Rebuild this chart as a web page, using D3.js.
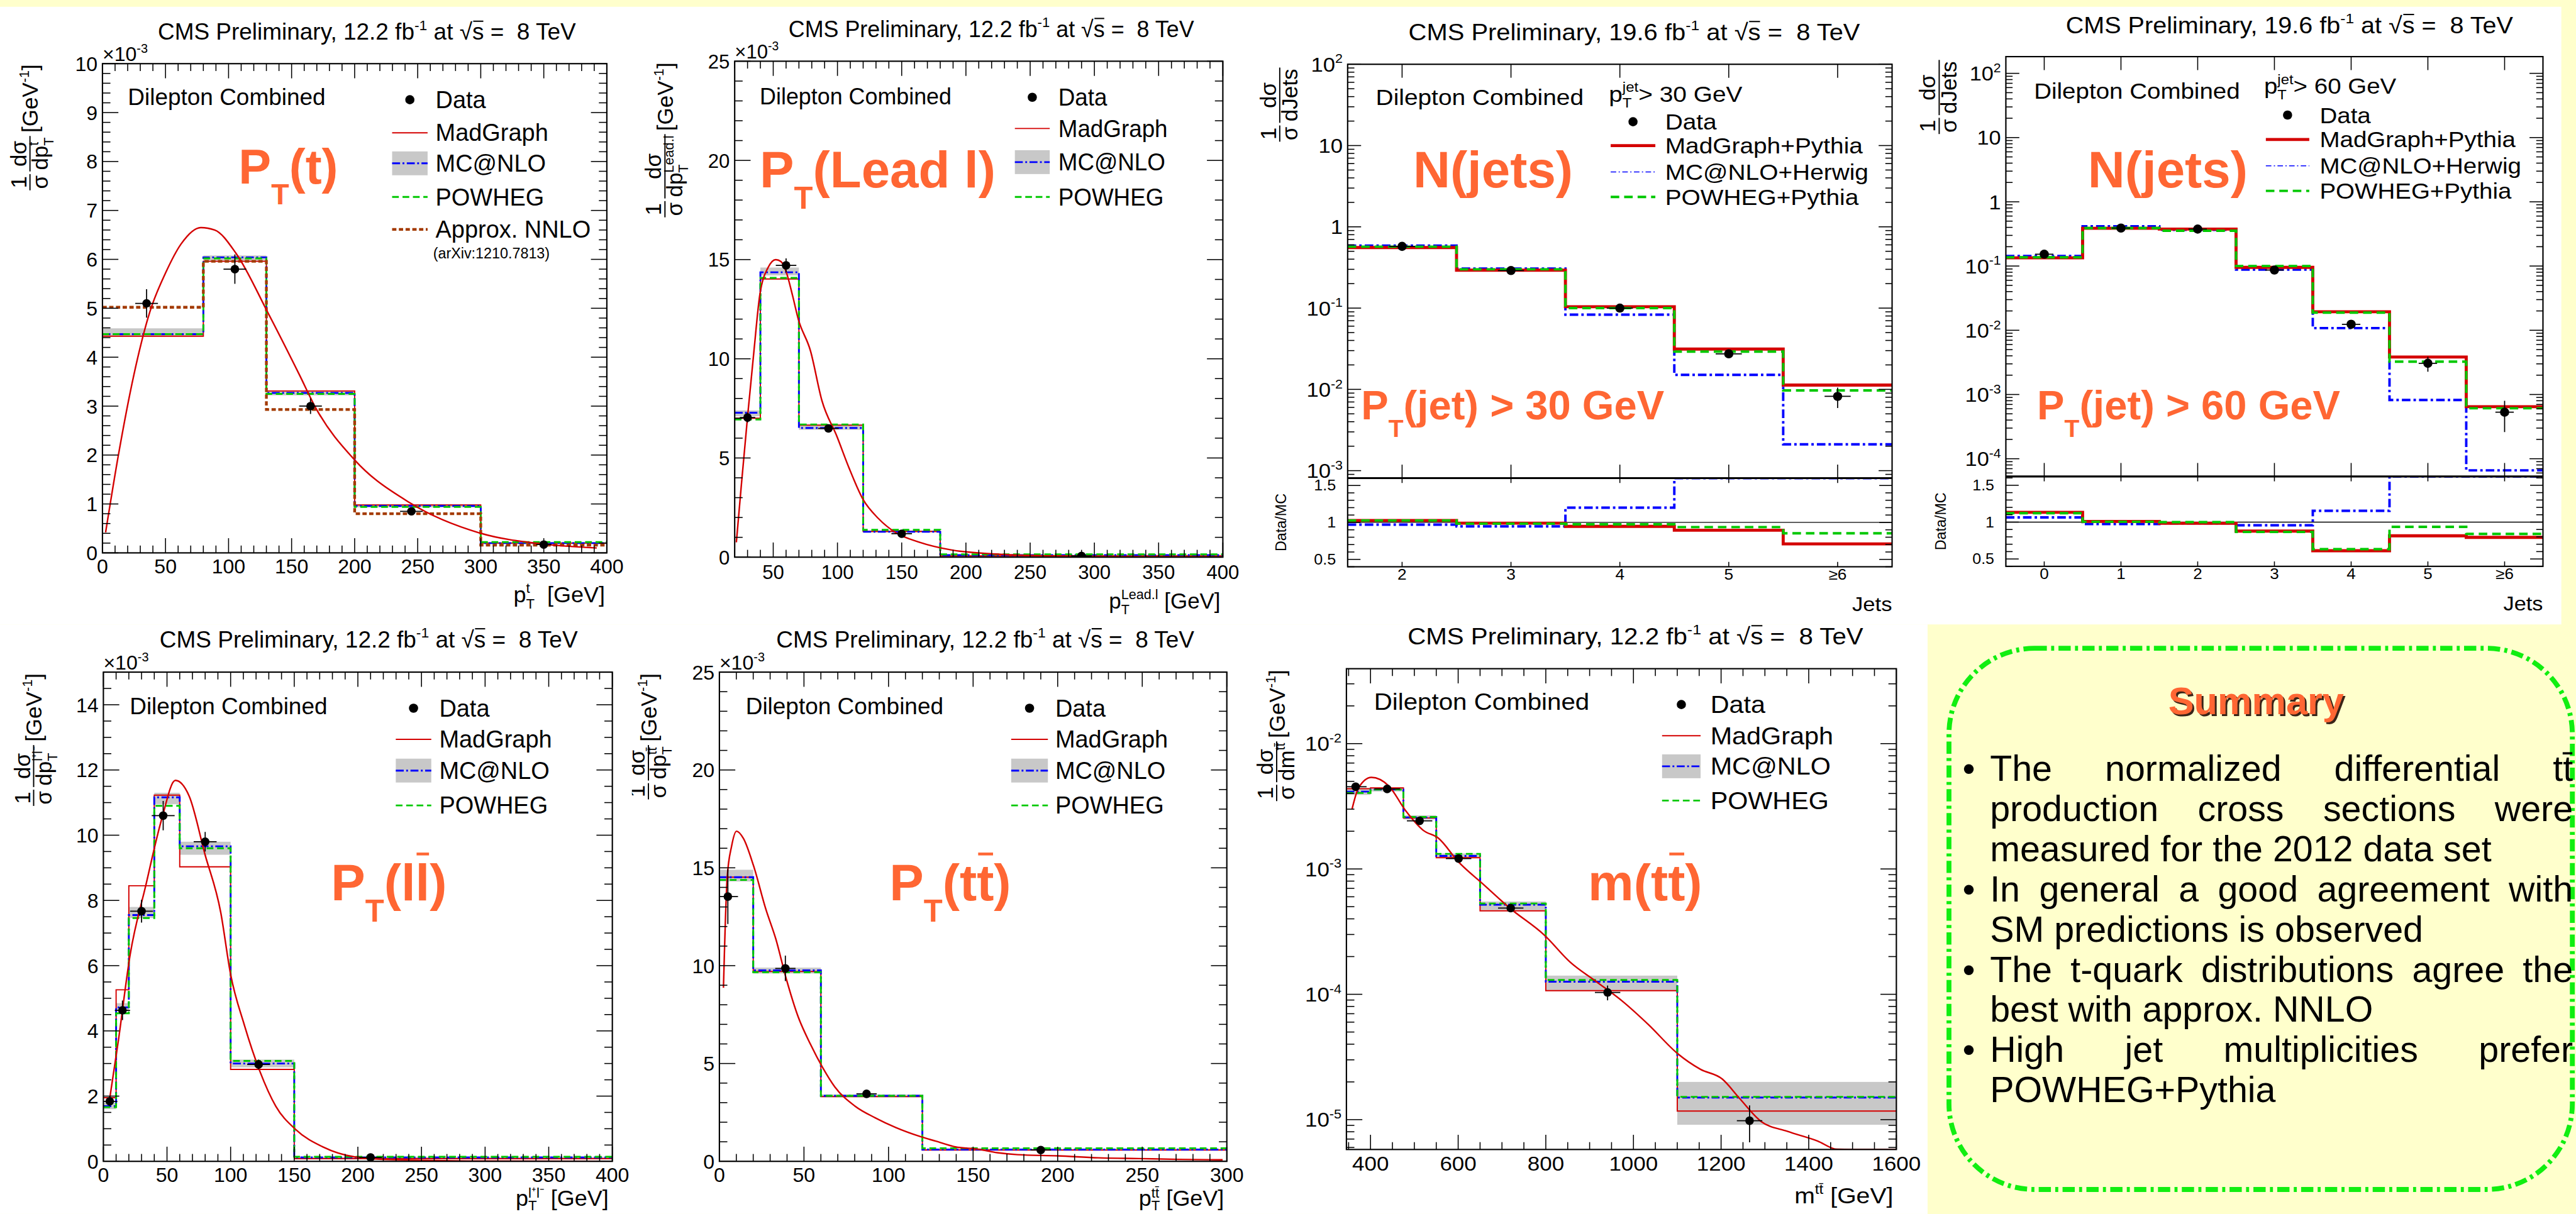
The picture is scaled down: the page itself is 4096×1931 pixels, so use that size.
<!DOCTYPE html>
<html>
<head>
<meta charset="utf-8">
<script src="https://cdn.jsdelivr.net/npm/d3@7"></script>
<style>
  html, body { margin: 0; padding: 0; background: #ffffcc; overflow: hidden; }
  svg { display: block; font-family: "Liberation Sans", Arial, Helvetica, sans-serif; }
  text { white-space: pre; }
</style>
</head>
<body>
<svg id="chart" width="4096" height="1931" viewBox="0 0 4211 1985"></svg>
<script>
// ---------------- data ----------------

// top quark pT, values in units of 1e-3 GeV^-1
const ptTopBins = [0, 80, 130, 200, 300, 400];
const ptTopMadGraph = [4.43, 5.96, 3.31, 0.98, 0.2];
const ptTopMcNlo = [4.47, 6.04, 3.27, 0.96, 0.2];
const ptTopMcNloLow = [4.42, 5.96, 3.22, 0.93, 0.18];
const ptTopMcNloHigh = [4.59, 6.08, 3.31, 0.99, 0.22];
const ptTopPowheg = [4.47, 6.02, 3.25, 0.94, 0.22];
const ptTopNnlo = [5.02, 5.96, 2.93, 0.8, 0.16];
const ptTopDataX = [35, 105, 165, 245, 350];
const ptTopDataY = [5.1, 5.8, 3.0, 0.85, 0.17];
const ptTopDataErr = [0.29, 0.3, 0.16, 0.06, 0.03];
const ptTopDataXErr = [9, 9, 9, 9, 6];
const ptTopCurveX = [2.5, 12.5, 25, 37.5, 50, 62.5, 78, 89, 106, 131, 156, 169, 200, 244, 300, 350, 392];
const ptTopCurveY = [0.42, 1.98, 3.65, 4.92, 5.72, 6.32, 6.65, 6.6, 6.12, 4.92, 3.65, 2.97, 1.9, 1.02, 0.4, 0.18, 0.1];

// leading lepton pT
const ptLeadBins = [20, 40, 70, 120, 180, 400];
const ptLeadMadGraph = [7.0, 14.02, 6.65, 1.3, 0.06];
const ptLeadMcNlo = [7.28, 14.36, 6.51, 1.28, 0.1];
const ptLeadMcNloLow = [7.1, 14.2, 6.42, 1.24, 0.08];
const ptLeadMcNloHigh = [7.4, 14.6, 6.72, 1.34, 0.12];
const ptLeadPowheg = [6.94, 14.08, 6.69, 1.38, 0.14];
const ptLeadDataX = [30, 60, 93, 150, 290];
const ptLeadDataY = [7.04, 14.71, 6.49, 1.18, 0.06];
const ptLeadDataErr = [0.25, 0.35, 0.2, 0.08, 0.02];
const ptLeadDataXErr = [6, 8, 8, 8, 8];
const ptLeadCurveX = [21.3, 25, 30, 35, 39.5, 46, 52, 56, 60, 65, 69.5, 79, 88, 99.5, 109, 120, 132, 145, 164, 189, 223, 270, 330, 396];
const ptLeadCurveY = [0.75, 3.5, 7.07, 10.4, 13.2, 14.6, 15.0, 14.9, 14.4, 13.2, 12.0, 10.4, 7.87, 6.1, 4.5, 2.9, 1.94, 1.25, 0.75, 0.36, 0.16, 0.06, 0.03, 0.02];

// jet multiplicity, pT(jet) > 30 GeV
const nJets30Labels = ['2', '3', '4', '5', '≥6'];
const nJets30Data = [0.575, 0.29, 0.1, 0.0274, 0.0082];
const nJets30DataErr = [0.015, 0.008, 0.003, 0.0025, 0.0023];
const nJets30MadGraph = [0.556, 0.293, 0.104, 0.0313, 0.0113];
const nJets30McNlo = [0.588, 0.306, 0.083, 0.0151, 0.00211];
const nJets30Powheg = [0.57, 0.3, 0.1, 0.0292, 0.0097];
const nJets30RatioMadGraph = [1.026, 0.99, 0.947, 0.895, 0.71];
const nJets30RatioMcNlo = [0.97, 0.947, 1.2, 1.81, 3.8];
const nJets30RatioPowheg = [1.026, 0.984, 0.974, 0.937, 0.853];

// jet multiplicity, pT(jet) > 60 GeV
const nJets60Labels = ['0', '1', '2', '3', '4', '5', '≥6'];
const nJets60Data = [0.153, 0.39, 0.376, 0.0866, 0.0124, 0.00306, 0.00053];
const nJets60DataErr = [0.01, 0.015, 0.015, 0.006, 0.002, 0.0008, 0.00027];
const nJets60MadGraph = [0.134, 0.387, 0.376, 0.0955, 0.0194, 0.00383, 0.000646];
const nJets60McNlo = [0.143, 0.415, 0.366, 0.088, 0.0108, 0.00082, 0.000066];
const nJets60Powheg = [0.137, 0.39, 0.355, 0.1, 0.0188, 0.00325, 0.00061];
const nJets60RatioMadGraph = [1.133, 1.01, 0.984, 0.878, 0.612, 0.814, 0.793];
const nJets60RatioMcNlo = [1.064, 0.973, 0.984, 0.957, 1.154, 3.7, 8.0];
const nJets60RatioPowheg = [1.122, 1.005, 1.0, 0.867, 0.633, 0.936, 0.84];

// dilepton pT
const ptLLBins = [0, 10, 20, 40, 60, 100, 150, 400];
const ptLLMadGraph = [1.95, 5.26, 8.45, 11.23, 9.03, 2.82, 0.08];
const ptLLMcNlo = [1.69, 4.72, 7.55, 11.16, 9.66, 3.0, 0.12];
const ptLLMcNloLow = [1.6, 4.6, 7.46, 10.95, 9.4, 2.88, 0.1];
const ptLLMcNloHigh = [1.8, 4.85, 7.8, 11.3, 9.8, 3.12, 0.14];
const ptLLPowheg = [1.66, 4.54, 7.46, 10.9, 9.6, 3.08, 0.14];
const ptLLDataX = [5, 15, 30, 47, 80, 122, 210];
const ptLLDataY = [1.84, 4.63, 7.67, 10.6, 9.8, 2.97, 0.12];
const ptLLDataErr = [0.15, 0.3, 0.35, 0.45, 0.3, 0.15, 0.02];
const ptLLDataXErr = [6, 6, 9, 9, 9, 9, 9];
const ptLLCurveX = [5, 11.8, 21, 33.4, 45.8, 56.6, 67.4, 79.8, 92.2, 100, 110.7, 123, 135.5, 151, 172.6, 197, 228, 300, 400];
const ptLLCurveY = [1.93, 3.71, 6.33, 8.47, 10.49, 11.68, 11.2, 9.42, 7.64, 5.73, 4.19, 2.76, 1.69, 0.98, 0.44, 0.14, 0.05, 0.01, 0.0];

// ttbar pT
const ptTTBins = [0, 20, 60, 120, 300];
const ptTTMadGraph = [14.52, 9.7, 3.31, 0.58];
const ptTTMcNlo = [14.52, 9.76, 3.35, 0.6];
const ptTTMcNloLow = [14.3, 9.6, 3.28, 0.56];
const ptTTMcNloHigh = [14.9, 9.9, 3.42, 0.64];
const ptTTPowheg = [14.38, 9.66, 3.35, 0.67];
const ptTTDataX = [5, 39, 87, 190];
const ptTTDataY = [13.53, 9.86, 3.45, 0.58];
const ptTTDataErr = [1.4, 0.65, 0.2, 0.08];
const ptTTDataXErr = [6, 6, 6, 6];
const ptTTCurveX = [2.4, 4.6, 7.2, 10.1, 14.2, 20.2, 27.4, 33.4, 39.4, 46.6, 53.8, 61, 68.2, 80.2, 92.2, 104.2, 118.6, 128, 140, 152.3, 164.3, 176.3, 200, 224, 248, 272, 297.5];
const ptTTCurveY = [8.87, 14.5, 16.1, 16.87, 16.5, 15.1, 12.9, 11.35, 9.37, 7.38, 5.99, 4.8, 3.81, 2.82, 2.22, 1.73, 1.27, 1.03, 0.73, 0.63, 0.44, 0.34, 0.28, 0.18, 0.14, 0.1, 0.08];

// ttbar invariant mass
const mTTBins = [345, 400, 475, 550, 650, 800, 1100, 1600];
const mTTMadGraph = [4.37e-3, 4.43e-3, 2.55e-3, 1.23e-3, 4.64e-4, 1.07e-4, 1.17e-5];
const mTTMcNlo = [4.14e-3, 4.3e-3, 2.58e-3, 1.27e-3, 5.19e-4, 1.26e-4, 1.5e-5];
const mTTMcNloLow = [3.9e-3, 4.15e-3, 2.48e-3, 1.22e-3, 4.7e-4, 1.07e-4, 9.1e-6];
const mTTMcNloHigh = [4.4e-3, 4.45e-3, 2.68e-3, 1.33e-3, 5.5e-4, 1.41e-4, 2.0e-5];
const mTTPowheg = [4.04e-3, 4.3e-3, 2.6e-3, 1.32e-3, 5.3e-4, 1.3e-4, 1.52e-5];
const mTTDataX = [366, 438, 512, 601, 720, 941, 1265];
const mTTDataY = [4.53e-3, 4.35e-3, 2.42e-3, 1.21e-3, 4.87e-4, 1.035e-4, 9.8e-6];
const mTTDataErr = [0.3e-3, 0.2e-3, 0.12e-3, 0.07e-3, 0.03e-3, 0.14e-4, 3.2e-6];
const mTTDataXErr = [25, 29, 29, 29, 29, 29, 29];
const mTTCurveX = [357.8, 372.7, 402, 441.6, 481, 520.6, 555, 599.6, 659, 718, 797, 856, 915.5, 975, 1034, 1101, 1153, 1202.6, 1242, 1291.6, 1350.9, 1420, 1464.5, 1500, 1600];
const mTTCurveY = [3.0e-3, 4.44e-3, 5.38e-3, 4.6e-3, 2.89e-3, 2.03e-3, 1.76e-3, 1.15e-3, 7.46e-4, 4.87e-4, 2.96e-4, 1.8e-4, 1.26e-4, 8.8e-5, 5.74e-5, 3.36e-5, 2.52e-5, 2.11e-5, 1.48e-5, 9.66e-6, 8.07e-6, 6.76e-6, 5.8e-6, 5.5e-6, 5.0e-6];

const summaryTitle = 'Summary';
const summaryItems = [
  ['The normalized differential tt\u0304', 'production cross sections were', 'measured for the 2012 data set'],
  ['In general a good agreement with', 'SM predictions is observed'],
  ['The t-quark distributions agree the', 'best with approx. NNLO'],
  ['High jet multiplicities prefer', 'POWHEG+Pythia'],
];

// ---------------- styles ----------------
const INK = '#000';
const ORANGE = '#ff6633';
const RED = '#d40000';
const BLUE = '#0000ff';
const GREEN = '#00c800';
const BROWN = '#a33a00';
const BAND = '#c8c8c8';

const styles = {
  madgraph: { stroke: RED, width: 2 },
  mcnlo: { stroke: BLUE, width: 3, dash: '13,4,3,4' },
  powheg: { stroke: GREEN, width: 3, dash: '11,6' },
  nnlo: { stroke: BROWN, width: 4.5, dash: '7,4' },
  curve: { stroke: RED, width: 2.5 },
};
const jetStyles = {
  madgraph: { stroke: RED, width: 5 },
  mcnlo: { stroke: BLUE, width: 4, dash: '14,5,4,5' },
  mcnloLegend: { stroke: BLUE, width: 1.5, dash: '9,4,2,4' },
  powheg: { stroke: GREEN, width: 4, dash: '14,8' },
};

const svg = d3.select('#chart');
const defs = svg.append('defs');

// slide background + white picture areas
svg.append('rect').attr('width', 4211).attr('height', 1985).attr('fill', '#ffffcc');
svg.append('rect').attr('x', 0).attr('y', 11).attr('width', 4187).attr('height', 1010).attr('fill', '#fff');
svg.append('rect').attr('x', 0).attr('y', 1021).attr('width', 3151).attr('height', 964).attr('fill', '#fff');

// ---------------- helpers ----------------
function stroke(sel, st) {
  sel.attr('fill', 'none').attr('stroke', st.stroke).attr('stroke-width', st.width);
  if (st.dash) sel.attr('stroke-dasharray', st.dash);
  return sel;
}

// text made of pieces: {t} plain, {sub, sup} stacked scripts, {t, bar} overlined
function richText(parent, x, y, parts, size, opts = {}) {
  const anchor = opts.anchor || 'start';
  const sx = opts.stretch || 1;
  const g = parent.append('g');
  const fill = opts.fill || INK;
  g.attr('fill', fill);
  if (opts.weight) g.attr('font-weight', opts.weight);
  let cx = 0;
  parts.forEach((p) => {
    if (p.t !== undefined) {
      const t = g.append('text').attr('x', cx).attr('y', 0)
        .attr('font-size', size * (p.scale || 1)).text(p.t);
      const w = t.node().getComputedTextLength();
      if (p.bar) {
        const by = -size * (p.barY || 0.88);
        g.append('line').attr('x1', cx + w * 0.08).attr('x2', cx + w * 0.95)
          .attr('y1', by).attr('y2', by)
          .attr('stroke', fill).attr('stroke-width', Math.max(1.5, size * 0.055));
      }
      cx += w;
    } else {
      const s = size * (p.scale || 0.62);
      let w = 0;
      if (p.sup !== undefined) {
        const t = g.append('text').attr('x', cx).attr('y', -size * (p.supDy || 0.42))
          .attr('font-size', s).text(p.sup);
        w = Math.max(w, t.node().getComputedTextLength());
      }
      if (p.sub !== undefined) {
        const t = g.append('text').attr('x', cx).attr('y', size * (p.subDy || 0.26))
          .attr('font-size', s).text(p.sub);
        w = Math.max(w, t.node().getComputedTextLength());
      }
      cx += w;
    }
  });
  const shift = anchor === 'end' ? cx : anchor === 'middle' ? cx / 2 : 0;
  g.attr('transform', `translate(${x},${y}) scale(${sx},1) translate(${-shift},0)`);
  return { g, width: cx * sx };
}

function fraction(parent, x, num, den, size) {
  const n = richText(parent, 0, 0, num, size);
  const d = richText(parent, 0, 0, den, size);
  const w = Math.max(n.width, d.width) + size * 0.12;
  n.g.attr('transform', `translate(${x + (w - n.width) / 2},${-size * 0.17})`);
  d.g.attr('transform', `translate(${x + (w - d.width) / 2},${size * 0.8})`);
  parent.append('line').attr('x1', x).attr('x2', x + w).attr('y1', 0).attr('y2', 0)
    .attr('stroke', INK).attr('stroke-width', 2);
  return w;
}

// ROOT style rotated y title, right end at the top of the axis
function yTitle(parent, px, py, den, units, size) {
  const g = parent.append('g').attr('transform', `translate(${px},${py}) rotate(-90)`);
  const inner = g.append('g');
  let cx = 0;
  cx += fraction(inner, cx, [{ t: '1' }], [{ t: 'σ' }], size) + size * 0.12;
  cx += fraction(inner, cx, [{ t: 'dσ' }], den, size) + size * 0.15;
  if (units) cx += richText(inner, cx, size * 0.36, [{ t: '[GeV' }, { sup: '-1' }, { t: ']' }], size).width;
  inner.attr('transform', `translate(${-cx},0)`);
}

function titleParts(lumi) {
  return [{ t: `CMS Preliminary, ${lumi} fb` }, { sup: '-1' }, { t: ' at ' }, { t: '√' },
    { t: 's', bar: true, barY: 0.8 }, { t: ' =  8 TeV' }];
}

function linTicks(domain, step) {
  const start = Math.ceil(domain[0] / step - 1e-9) * step;
  return d3.range(start, domain[1] + step * 1e-6, step).map((v) => +v.toFixed(6));
}
function minorOnly(minor, major) {
  return minor.filter((v) => !major.some((m) => Math.abs(m - v) < 1e-9 * Math.max(1, Math.abs(m))));
}
function logTicks(domain) {
  const major = [];
  const minor = [];
  for (let k = Math.floor(Math.log10(domain[0])); k <= Math.ceil(Math.log10(domain[1])); k++) {
    for (let m = 1; m < 10; m++) {
      const v = m * Math.pow(10, k);
      if (v < domain[0] || v > domain[1]) continue;
      (m === 1 ? major : minor).push(v);
    }
  }
  return { major, minor };
}
function logLabel(v) {
  const k = Math.round(Math.log10(v));
  if (k === 0) return [{ t: '1' }];
  if (k === 1) return [{ t: '10' }];
  return [{ t: '10' }, { sup: String(k) }];
}
function tickX(g, x, values, yTop, yBottom, len, lenTop = len) {
  values.forEach((v) => {
    g.append('line').attr('x1', x(v)).attr('x2', x(v)).attr('y1', yBottom).attr('y2', yBottom - len);
    g.append('line').attr('x1', x(v)).attr('x2', x(v)).attr('y1', yTop).attr('y2', yTop + lenTop);
  });
}
function tickY(g, y, values, xLeft, xRight, len) {
  values.forEach((v) => {
    g.append('line').attr('y1', y(v)).attr('y2', y(v)).attr('x1', xLeft).attr('x2', xLeft + len);
    g.append('line').attr('y1', y(v)).attr('y2', y(v)).attr('x1', xRight).attr('x2', xRight - len);
  });
}
function histPath(x, y, edges, vals) {
  const pts = vals.map((v, i) => [edges[i], v]);
  pts.push([edges[edges.length - 1], vals[vals.length - 1]]);
  return d3.line().x((d) => x(d[0])).y((d) => y(d[1])).curve(d3.curveStepAfter)(pts);
}
function drawData(g, x, y, xs, ys, errs, xerrs, r) {
  const idx = d3.range(xs.length);
  const eg = g.append('g').attr('stroke', INK).attr('stroke-width', 1.8);
  eg.selectAll(null).data(idx).join('line')
    .attr('x1', (i) => x(xs[i])).attr('x2', (i) => x(xs[i]))
    .attr('y1', (i) => y(ys[i] - errs[i])).attr('y2', (i) => y(ys[i] + errs[i]));
  eg.selectAll(null).data(idx).join('line')
    .attr('x1', (i) => x(xs[i] - xerrs[i])).attr('x2', (i) => x(xs[i] + xerrs[i]))
    .attr('y1', (i) => y(ys[i])).attr('y2', (i) => y(ys[i]));
  g.selectAll(null).data(idx).join('circle')
    .attr('cx', (i) => x(xs[i])).attr('cy', (i) => y(ys[i])).attr('r', r).attr('fill', INK);
}
function legendRows(g, L, entries, fs, sx) {
  entries.forEach((e, i) => {
    const cy = L.rows[i];
    if (e.kind === 'data') {
      g.append('circle').attr('cx', (L.mx0 + L.mx1) / 2).attr('cy', cy).attr('r', 7.5).attr('fill', INK);
    } else {
      if (e.kind === 'band') {
        g.append('rect').attr('x', L.mx0).attr('y', cy - fs * 0.5).attr('width', L.mx1 - L.mx0)
          .attr('height', fs).attr('fill', BAND);
      }
      stroke(g.append('line').attr('x1', L.mx0).attr('x2', L.mx1).attr('y1', cy).attr('y2', cy), e.style);
    }
    richText(g, L.tx, cy + fs * 0.35, [{ t: e.label }], fs, { stretch: sx });
  });
}
function bigLabel(g, x, y, parts, size) {
  richText(g, x, y, parts, size, { fill: ORANGE, weight: 'bold' });
}

// ---------------- spectrum panels ----------------
function drawSpectrum(p) {
  const { x0, x1, y0, y1 } = p.box;
  const s = p.series;
  const f = p.stretch;
  const root = svg.append('g');
  if (p.clipX !== undefined) {
    defs.append('clipPath').attr('id', `panel-${p.id}`).append('rect')
      .attr('x', p.clipX).attr('y', 1021).attr('width', 4211).attr('height', 1000);
    root.attr('clip-path', `url(#panel-${p.id})`);
  }
  const x = d3.scaleLinear().domain(p.xDomain).range([x0, x1]);
  const y = (p.log ? d3.scaleLog() : d3.scaleLinear()).domain(p.yDomain).range([y1, y0]).clamp(true);

  defs.append('clipPath').attr('id', `plot-${p.id}`).append('rect')
    .attr('x', x0).attr('y', y0).attr('width', x1 - x0).attr('height', y1 - y0);
  const plot = root.append('g').attr('clip-path', `url(#plot-${p.id})`);

  plot.selectAll(null).data(d3.range(s.mcnlo.length)).join('rect')
    .attr('x', (i) => x(s.bins[i])).attr('width', (i) => x(s.bins[i + 1]) - x(s.bins[i]))
    .attr('y', (i) => y(s.high[i])).attr('height', (i) => y(s.low[i]) - y(s.high[i]))
    .attr('fill', BAND);

  const hist = (vals, st) => stroke(plot.append('path').attr('d', histPath(x, y, s.bins, vals)), st);
  hist(s.madgraph, styles.madgraph);
  hist(s.mcnlo, styles.mcnlo);
  hist(s.powheg, styles.powheg);
  if (s.nnlo) hist(s.nnlo, styles.nnlo);

  const curve = d3.line().x((d) => x(d[0])).y((d) => y(d[1])).curve(d3.curveMonotoneX);
  stroke(plot.append('path').attr('d', curve(d3.zip(s.curveX, s.curveY))), styles.curve);

  drawData(plot, x, y, s.dataX, s.dataY, s.dataErr, s.dataXErr, 7);

  // frame and ticks
  const axes = root.append('g').attr('stroke', INK).attr('stroke-width', 1.6);
  const xMaj = linTicks(p.xDomain, p.xStep[0]);
  const xMin = minorOnly(linTicks(p.xDomain, p.xStep[1]), xMaj);
  tickX(axes, x, xMaj, y0, y1, 24);
  tickX(axes, x, xMin, y0, y1, 12);
  let yMaj;
  let yMin;
  if (p.log) {
    const t = logTicks(p.yDomain);
    yMaj = t.major;
    yMin = t.minor;
  } else {
    yMaj = linTicks(p.yDomain, p.yStep[0]);
    yMin = minorOnly(linTicks(p.yDomain, p.yStep[1]), yMaj);
  }
  tickY(axes, y, yMaj, x0, x1, 26);
  tickY(axes, y, yMin, x0, x1, 13);
  root.append('rect').attr('x', x0).attr('y', y0).attr('width', x1 - x0).attr('height', y1 - y0)
    .attr('fill', 'none').attr('stroke', INK).attr('stroke-width', 2.2);

  const tfs = 33;
  xMaj.forEach((v) => richText(root, x(v), y1 + p.xLabelDy, [{ t: String(v) }], tfs, { anchor: 'middle', stretch: f }));
  yMaj.forEach((v) => richText(root, x0 - 8, y(v) + tfs * 0.36,
    p.log ? logLabel(v) : [{ t: String(v) }], tfs, { anchor: 'end', stretch: f }));
  if (p.exponent) richText(root, x0, y0 - 4, [{ t: '×10' }, { sup: p.exponent }], tfs, { stretch: f });

  richText(root, p.xTitle.x, p.xTitle.y, p.xTitle.parts, 37, { anchor: 'end', stretch: f });
  yTitle(root, p.yTitle.x, p.yTitle.y, p.yTitle.den, true, 36);
  richText(root, p.title[0], p.title[1], titleParts('12.2'), 38, { stretch: f });
  richText(root, p.tag[0], p.tag[1], [{ t: 'Dilepton Combined' }], 38, { stretch: f });

  const entries = [
    { label: 'Data', kind: 'data' },
    { label: 'MadGraph', kind: 'line', style: styles.madgraph },
    { label: 'MC@NLO', kind: 'band', style: styles.mcnlo },
    { label: 'POWHEG', kind: 'line', style: styles.powheg },
  ];
  if (s.nnlo) entries.push({ label: 'Approx. NNLO', kind: 'line', style: styles.nnlo });
  legendRows(root, p.legend, entries, 39, f);
  if (p.note) richText(root, p.note.x, p.note.y, [{ t: p.note.text }], 24, { stretch: f });

  bigLabel(root, p.big.x, p.big.y, p.big.parts, p.big.size);
}

// ---------------- jet multiplicity panels ----------------
function drawJets(p) {
  const { x0, x1, y0, ySplit, y1 } = p.box;
  const f = p.stretch;
  const n = p.labels.length;
  const edges = d3.range(n + 1);
  const centers = d3.range(n).map((i) => i + 0.5);
  const x = d3.scaleLinear().domain([0, n]).range([x0, x1]);
  const y = d3.scaleLog().domain(p.yDomain).range([ySplit, y0]).clamp(true);
  const r = d3.scaleLinear().domain(p.rDomain).range([y1, ySplit]).clamp(true);
  const root = svg.append('g');

  defs.append('clipPath').attr('id', `main-${p.id}`).append('rect')
    .attr('x', x0).attr('y', y0).attr('width', x1 - x0).attr('height', ySplit - y0);
  defs.append('clipPath').attr('id', `ratio-${p.id}`).append('rect')
    .attr('x', x0).attr('y', ySplit).attr('width', x1 - x0).attr('height', y1 - ySplit);
  const main = root.append('g').attr('clip-path', `url(#main-${p.id})`);
  const ratio = root.append('g').attr('clip-path', `url(#ratio-${p.id})`);

  stroke(main.append('path').attr('d', histPath(x, y, edges, p.mcnlo)), jetStyles.mcnlo);
  stroke(main.append('path').attr('d', histPath(x, y, edges, p.madgraph)), jetStyles.madgraph);
  stroke(main.append('path').attr('d', histPath(x, y, edges, p.powheg)), jetStyles.powheg);
  drawData(main, x, y, centers, p.data, p.dataErr, centers.map(() => 0.12), 7.5);

  ratio.append('line').attr('x1', x0).attr('x2', x1).attr('y1', r(1)).attr('y2', r(1))
    .attr('stroke', INK).attr('stroke-width', 1.3);
  stroke(ratio.append('path').attr('d', histPath(x, r, edges, p.ratioMcNlo)), jetStyles.mcnlo);
  stroke(ratio.append('path').attr('d', histPath(x, r, edges, p.ratioMadGraph)), jetStyles.madgraph);
  stroke(ratio.append('path').attr('d', histPath(x, r, edges, p.ratioPowheg)), jetStyles.powheg);

  const axes = root.append('g').attr('stroke', INK).attr('stroke-width', 1.6);
  tickX(axes, x, centers, y0, ySplit, 22);
  tickX(axes, x, centers, ySplit, y1, 8);
  const lt = logTicks(p.yDomain);
  tickY(axes, y, lt.major, x0, x1, 22);
  tickY(axes, y, lt.minor, x0, x1, 11);
  const rMaj = [0.5, 1, 1.5];
  tickY(axes, r, rMaj, x0, x1, 21);
  tickY(axes, r, minorOnly(linTicks(p.rDomain, 0.1), rMaj), x0, x1, 11);
  root.append('rect').attr('x', x0).attr('y', y0).attr('width', x1 - x0).attr('height', y1 - y0)
    .attr('fill', 'none').attr('stroke', INK).attr('stroke-width', 2.2);
  root.append('line').attr('x1', x0).attr('x2', x1).attr('y1', ySplit).attr('y2', ySplit)
    .attr('stroke', INK).attr('stroke-width', 3.2);

  lt.major.forEach((v) => richText(root, x0 - 8, y(v) + 12, logLabel(v), 33, { anchor: 'end', stretch: f }));
  rMaj.forEach((v) => richText(root, x0 - 19, r(v) + 8.5, [{ t: String(v) }], 24, { anchor: 'end', stretch: f }));
  p.labels.forEach((lab, i) => richText(root, x(centers[i]), y1 + 21, [{ t: lab }], 25, { anchor: 'middle', stretch: f }));

  root.append('text').attr('transform', `translate(${p.ratioTitleX},${(ySplit + y1) / 2}) rotate(-90)`)
    .attr('text-anchor', 'middle').attr('font-size', 24).text('Data/MC');
  richText(root, x1, y1 + 72, [{ t: 'Jets' }], 33, { anchor: 'end', stretch: f });
  yTitle(root, p.yTitle.x, p.yTitle.y, [{ t: 'dJets' }], false, 36);
  richText(root, p.title[0], p.title[1], titleParts('19.6'), 38, { stretch: f });
  richText(root, p.tag[0], p.tag[1], [{ t: 'Dilepton Combined' }], 37, { stretch: f });
  richText(root, p.cut.x, p.cut.y, [{ t: 'p' }, { sub: 'T', sup: 'jet' }, { t: '> ' + p.cut.text }], 37, { stretch: f });

  legendRows(root, p.legend, [
    { label: 'Data', kind: 'data' },
    { label: 'MadGraph+Pythia', kind: 'line', style: jetStyles.madgraph },
    { label: 'MC@NLO+Herwig', kind: 'line', style: jetStyles.mcnloLegend },
    { label: 'POWHEG+Pythia', kind: 'line', style: jetStyles.powheg },
  ], 37, f);

  bigLabel(root, p.big.x, p.big.y, [{ t: 'N(jets)' }], 84);
  bigLabel(root, p.big2.x, p.big2.y, [{ t: 'P' }, { sub: 'T', subDy: 0.42, scale: 0.6 }, { t: `(jet) > ${p.cut.text}` }], 67);
}

// ---------------- panel layout ----------------
const subT = { sub: 'T', subDy: 0.42, scale: 0.6 };

drawSpectrum({
  id: 'ptTop', stretch: 1.0,
  box: { x0: 167.5, x1: 992, y0: 104, y1: 904 },
  xDomain: [0, 400], yDomain: [0, 10], xStep: [50, 10], yStep: [1, 0.2], exponent: '-3', xLabelDy: 34,
  title: [258, 65], tag: [209, 172],
  xTitle: { x: 989, y: 985, parts: [{ t: 'p' }, { sub: 'T', sup: 't' }, { t: '  [GeV]' }] },
  yTitle: { x: 49, y: 105, den: [{ t: 'dp' }, { sub: 'T', sup: 't' }] },
  legend: { mx0: 641, mx1: 699, tx: 712, rows: [163, 217, 267, 322, 375] },
  note: { x: 708, y: 422, text: '(arXiv:1210.7813)' },
  big: { x: 390, y: 300, size: 80, parts: [{ t: 'P' }, subT, { t: '(t)' }] },
  series: {
    bins: ptTopBins, madgraph: ptTopMadGraph, mcnlo: ptTopMcNlo, low: ptTopMcNloLow, high: ptTopMcNloHigh,
    powheg: ptTopPowheg, nnlo: ptTopNnlo, dataX: ptTopDataX, dataY: ptTopDataY, dataErr: ptTopDataErr,
    dataXErr: ptTopDataXErr, curveX: ptTopCurveX, curveY: ptTopCurveY,
  },
});

drawSpectrum({
  id: 'ptLead', stretch: 0.97,
  box: { x0: 1201, x1: 1999, y0: 100, y1: 911 },
  xDomain: [20, 400], yDomain: [0, 25], xStep: [50, 10], yStep: [5, 1], exponent: '-3', xLabelDy: 36,
  title: [1289, 60.5], tag: [1242, 171],
  xTitle: { x: 1995, y: 995, parts: [{ t: 'p' }, { sub: 'T', sup: 'Lead.l' }, { t: ' [GeV]' }] },
  yTitle: { x: 1087, y: 102, den: [{ t: 'dp' }, { sub: 'T', sup: 'Lead.l' }] },
  legend: { mx0: 1659, mx1: 1716, tx: 1730, rows: [159, 210, 265, 322] },
  big: { x: 1242, y: 306, size: 84, parts: [{ t: 'P' }, subT, { t: '(Lead l)' }] },
  series: {
    bins: ptLeadBins, madgraph: ptLeadMadGraph, mcnlo: ptLeadMcNlo, low: ptLeadMcNloLow, high: ptLeadMcNloHigh,
    powheg: ptLeadPowheg, dataX: ptLeadDataX, dataY: ptLeadDataY, dataErr: ptLeadDataErr,
    dataXErr: ptLeadDataXErr, curveX: ptLeadCurveX, curveY: ptLeadCurveY,
  },
});

drawJets({
  id: 'nj30', stretch: 1.08,
  box: { x0: 2203, x1: 3093, y0: 105, ySplit: 781.7, y1: 926.7 },
  yDomain: [8.1e-4, 100], rDomain: [0.4, 1.6],
  labels: nJets30Labels, data: nJets30Data, dataErr: nJets30DataErr,
  madgraph: nJets30MadGraph, mcnlo: nJets30McNlo, powheg: nJets30Powheg,
  ratioMadGraph: nJets30RatioMadGraph, ratioMcNlo: nJets30RatioMcNlo, ratioPowheg: nJets30RatioPowheg,
  ratioTitleX: 2102, yTitle: { x: 2092, y: 105 },
  title: [2302.5, 65.5], tag: [2249, 172], cut: { x: 2630, y: 166, text: '30 GeV' },
  legend: { mx0: 2633, mx1: 2706, tx: 2722, rows: [199, 238, 281, 322] },
  big: { x: 2310, y: 306 }, big2: { x: 2225, y: 686 },
});

drawJets({
  id: 'nj60', stretch: 1.07,
  box: { x0: 3279, x1: 4157, y0: 92.5, ySplit: 779, y1: 926 },
  yDomain: [5.3e-5, 182], rDomain: [0.4, 1.62],
  labels: nJets60Labels, data: nJets60Data, dataErr: nJets60DataErr,
  madgraph: nJets60MadGraph, mcnlo: nJets60McNlo, powheg: nJets60Powheg,
  ratioMadGraph: nJets60RatioMadGraph, ratioMcNlo: nJets60RatioMcNlo, ratioPowheg: nJets60RatioPowheg,
  ratioTitleX: 3181, yTitle: { x: 3170, y: 92.5 },
  title: [3377, 54], tag: [3325, 161], cut: { x: 3701, y: 153, text: '60 GeV' },
  legend: { mx0: 3704, mx1: 3775, tx: 3792, rows: [188, 228, 271, 312] },
  big: { x: 3413, y: 306 }, big2: { x: 3330, y: 686 },
});

drawSpectrum({
  id: 'ptLL', stretch: 1.0,
  box: { x0: 169, x1: 1001, y0: 1099, y1: 1899 },
  xDomain: [0, 400], yDomain: [0, 15], xStep: [50, 10], yStep: [2, 0.5], exponent: '-3', xLabelDy: 34,
  title: [261, 1058.5], tag: [212, 1168],
  xTitle: { x: 995, y: 1972, parts: [{ t: 'p' }, { sub: 'T', sup: 'l⁺l⁻', subDy: 0.2, supDy: 0.38 }, { t: ' [GeV]' }] },
  yTitle: { x: 55, y: 1101, den: [{ t: 'dp' }, { sub: 'T', sup: 'l⁺l⁻' }] },
  legend: { mx0: 647, mx1: 705, tx: 718, rows: [1158, 1209, 1260, 1317] },
  big: { x: 541, y: 1472, size: 84, parts: [{ t: 'P' }, subT, { t: '(l' }, { t: 'l', bar: true, barY: 0.9 }, { t: ')' }] },
  series: {
    bins: ptLLBins, madgraph: ptLLMadGraph, mcnlo: ptLLMcNlo, low: ptLLMcNloLow, high: ptLLMcNloHigh,
    powheg: ptLLPowheg, dataX: ptLLDataX, dataY: ptLLDataY, dataErr: ptLLDataErr,
    dataXErr: ptLLDataXErr, curveX: ptLLCurveX, curveY: ptLLCurveY,
  },
});

drawSpectrum({
  id: 'ptTT', stretch: 1.0, clipX: 1033,
  box: { x0: 1176, x1: 2005.5, y0: 1099, y1: 1899 },
  xDomain: [0, 300], yDomain: [0, 25], xStep: [50, 10], yStep: [5, 1], exponent: '-3', xLabelDy: 34,
  title: [1269, 1058.5], tag: [1219, 1168],
  xTitle: { x: 2001, y: 1972, parts: [{ t: 'p' }, { sub: 'T', sup: 'tt\u0304', subDy: 0.2, supDy: 0.38 }, { t: ' [GeV]' }] },
  yTitle: { x: 1060, y: 1101, den: [{ t: 'dp' }, { sub: 'T', sup: 'tt\u0304' }] },
  legend: { mx0: 1653, mx1: 1713, tx: 1725, rows: [1158, 1209, 1260, 1317] },
  big: { x: 1454, y: 1472, size: 84, parts: [{ t: 'P' }, subT, { t: '(t' }, { t: 't', bar: true, barY: 0.9 }, { t: ')' }] },
  series: {
    bins: ptTTBins, madgraph: ptTTMadGraph, mcnlo: ptTTMcNlo, low: ptTTMcNloLow, high: ptTTMcNloHigh,
    powheg: ptTTPowheg, dataX: ptTTDataX, dataY: ptTTDataY, dataErr: ptTTDataErr,
    dataXErr: ptTTDataXErr, curveX: ptTTCurveX, curveY: ptTTCurveY,
  },
});

drawSpectrum({
  id: 'mTT', stretch: 1.09, log: true,
  box: { x0: 2201, x1: 3100, y0: 1093.4, y1: 1879.6 },
  xDomain: [345, 1600], yDomain: [5.78e-6, 0.0396], xStep: [200, 50], xLabelDy: 35,
  title: [2301, 1053.5], tag: [2246, 1161],
  xTitle: { x: 3095, y: 1968, parts: [{ t: 'm' }, { sup: 'tt\u0304' }, { t: ' [GeV]' }] },
  yTitle: { x: 2087, y: 1095, den: [{ t: 'dm' }, { sup: 'tt\u0304' }] },
  legend: { mx0: 2717, mx1: 2780, tx: 2796, rows: [1152, 1203, 1253, 1309] },
  big: { x: 2596, y: 1472, size: 84, parts: [{ t: 'm(t' }, { t: 't', bar: true, barY: 0.9 }, { t: ')' }] },
  series: {
    bins: mTTBins, madgraph: mTTMadGraph, mcnlo: mTTMcNlo, low: mTTMcNloLow, high: mTTMcNloHigh,
    powheg: mTTPowheg, dataX: mTTDataX, dataY: mTTDataY, dataErr: mTTDataErr,
    dataXErr: mTTDataXErr, curveX: mTTCurveX, curveY: mTTCurveY,
  },
});

// ---------------- summary box ----------------
const sumG = svg.append('g');
sumG.append('rect').attr('x', 3186).attr('y', 1060).attr('width', 1019).attr('height', 885).attr('rx', 140)
  .attr('fill', 'none').attr('stroke', '#11ee11').attr('stroke-width', 8).attr('stroke-dasharray', '20,7,5,7');

sumG.append('text').attr('x', 3691).attr('y', 1171).attr('text-anchor', 'middle')
  .attr('font-size', 63).attr('font-weight', 'bold').attr('fill', '#3a2418').text(summaryTitle);
sumG.append('text').attr('x', 3688).attr('y', 1168).attr('text-anchor', 'middle')
  .attr('font-size', 63).attr('font-weight', 'bold').attr('fill', ORANGE).text(summaryTitle);

const textLeft = 3253;
const textRight = 4206;
const sumSize = 59;
let lineNo = 0;
summaryItems.forEach((lines) => {
  lines.forEach((line, j) => {
    const by = 1276.8 + 65.7 * lineNo;
    if (j === 0) sumG.append('text').attr('x', 3208).attr('y', by).attr('font-size', sumSize).text('•');
    const words = line.split(' ');
    const nodes = words.map((w) => sumG.append('text').attr('y', by).attr('font-size', sumSize).text(w));
    const widths = nodes.map((nd) => nd.node().getComputedTextLength());
    const justify = j < lines.length - 1;
    const gap = justify ? (textRight - textLeft - d3.sum(widths)) / (words.length - 1) : sumSize * 0.278;
    let cx = textLeft;
    nodes.forEach((nd, i) => {
      nd.attr('x', cx);
      cx += widths[i] + gap;
    });
    lineNo += 1;
  });
});
</script>
</body>
</html>
